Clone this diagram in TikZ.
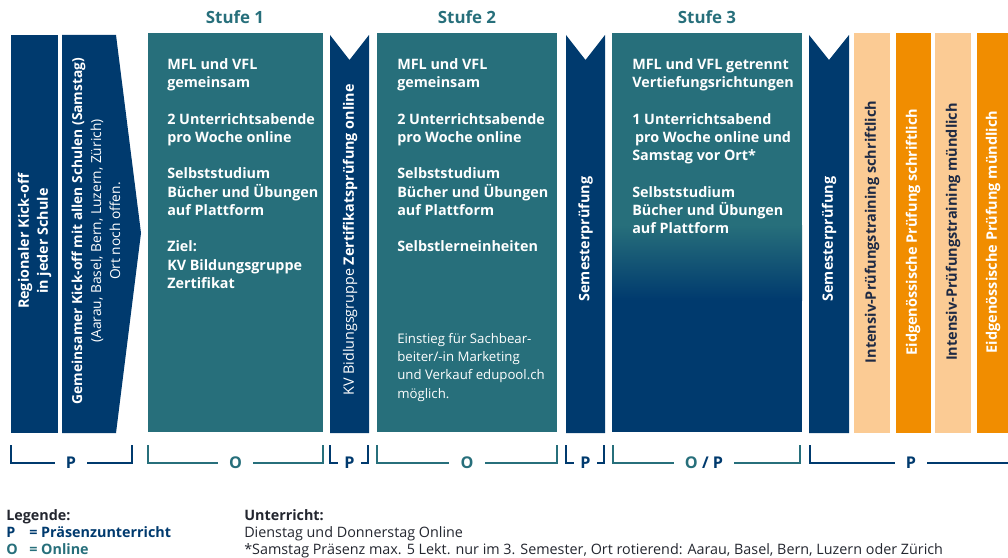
\documentclass[tikz,border=0pt]{standalone}
\usepackage{fontspec}
\setmainfont{Open Sans}
\definecolor{kvblau}{HTML}{003A6E}
\definecolor{kvpetrol}{HTML}{276F7B}
\definecolor{kvhell}{HTML}{FBCB94}
\definecolor{kvorange}{HTML}{F18D00}
\definecolor{kvtext}{HTML}{23262F}
\definecolor{kvnacht}{HTML}{1E2A44}

\begin{document}
\begin{tikzpicture}[x=0.025cm, y=-0.025cm]
        \tikzstyle{every node}=[inner sep=0pt]
        \tikzstyle{spalte}=[text=white, font=\bfseries\fontsize{10.2}{13}\selectfont, align=left, anchor=north west]
        \tikzstyle{hoch}=[rotate=90, align=center, text=white, font=\fontsize{10.2}{13.5}\selectfont]
        \tikzstyle{pruefung}=[hoch, font=\bfseries\fontsize{10.3}{13}\selectfont]
        \tikzstyle{titel}=[text=kvpetrol, font=\bfseries\fontsize{12}{14}\selectfont]
        \tikzstyle{klammer}=[line width=1.5pt, line cap=rect]
        \tikzstyle{kuerzel}=[font=\bfseries\fontsize{11.5}{14}\selectfont, inner xsep=0.3cm]
        \tikzstyle{legende}=[anchor=base west, text=kvtext, font=\fontsize{10.2}{12}\selectfont]
        \useasboundingbox (0,0) rectangle (1008,558);
        % Saeulen
        \fill[kvblau] (11,35) rectangle (58,433);
        \fill[kvblau] (62,35) -- (116,35) -- (141,233) -- (116,433) -- (62,433) -- cycle;
        \fill[kvpetrol] (148,33) rectangle (323,432);
        \fill[kvblau] (330,35) -- (349.5,60) -- (369,35) -- (369,433) -- (330,433) -- cycle;
        \fill[kvpetrol] (377,33) rectangle (557,432);
        \fill[kvblau] (566,35) -- (585.5,60) -- (605,35) -- (605,433) -- (566,433) -- cycle;
        \fill[kvblau] (612,33) rectangle (802,432);
        \fill[kvpetrol] (612,33) rectangle (802,226);
        \shade[top color=kvpetrol, bottom color=kvblau] (612,225) rectangle (802,300);
        \fill[kvblau] (809,35) -- (829,60) -- (849,35) -- (849,433) -- (809,433) -- cycle;
        \fill[kvhell] (854,33) rectangle (890,433);
        \fill[kvorange] (896,33) rectangle (931,433);
        \fill[kvhell] (935,33) rectangle (971,433);
        \fill[kvorange] (977,33) rectangle (1008,433);
        % Titel
        \node[titel] (stufe1) at (235,17) {Stufe 1};
        \node[titel] (stufe2) at (467,17) {Stufe 2};
        \node[titel] (stufe3) at (707,17) {Stufe 3};
        % Inhalte
        \node[spalte] (inhalt1) at (167,58) {MFL und VFL\\gemeinsam\\[13pt]2 Unterrichtsabende\\pro Woche online\\[13pt]Selbststudium\\Bücher und Übungen\\auf Plattform\\[13pt]Ziel:\\KV Bildungsgruppe\\Zertifikat};
        \node[spalte] (inhalt2) at (397,58) {MFL und VFL\\gemeinsam\\[13pt]2 Unterrichtsabende\\pro Woche online\\[13pt]Selbststudium\\Bücher und Übungen\\auf Plattform\\[13pt]Selbstlerneinheiten};
        \node[spalte, font=\fontsize{9.4}{13}\selectfont] (einstieg) at (397,333) {Einstieg für Sachbear-\\beiter/-in Marketing\\und Verkauf edupool.ch\\möglich.};
        \node[spalte] (inhalt3) at (632,58) {MFL und VFL getrennt\\Vertiefungsrichtungen\\[13pt]1 Unterrichtsabend\\\hspace{2pt}pro Woche online und\\Samstag vor Ort*\\[13pt]Selbststudium\\Bücher und Übungen\\auf Plattform};
        % Hochkant
        \node[hoch] (kickoff1) at (34.5,241) {\textbf{Regionaler Kick-off}\\\textbf{in jeder Schule}};
        \node[hoch, font=\fontsize{9.8}{13.5}\selectfont] (kickoff2) at (96,231) {\textbf{Gemeinsamer Kick-off mit allen Schulen (Samstag)}\\(Aarau, Basel, Bern, Luzern, Zürich)\\Ort noch offen.};
        \node[hoch] (zertifikat) at (350,240) {KV Bidlungsgruppe \textbf{Zertifikatsprüfung online}};
        \node[hoch] (semester1) at (585.5,239) {\textbf{Semesterprüfung}};
        \node[hoch] (semester2) at (829,239) {\textbf{Semesterprüfung}};
        \node[pruefung, text=kvnacht] (training1) at (872,232) {Intensiv-Prüfungstraining schriftlich};
        \node[pruefung] (eidg1) at (913,232) {Eidgenössische Prüfung schriftlich};
        \node[pruefung, text=kvnacht] (training2) at (953,232) {Intensiv-Prüfungstraining mündlich};
        \node[pruefung] (eidg2) at (993,232) {Eidgenössische Prüfung mündlich};
        % Klammern
        \node[kuerzel, text=kvblau] (p1) at (71,463) {P};
        \node[kuerzel, text=kvpetrol] (o1) at (235.5,463) {O};
        \node[kuerzel, text=kvblau, inner xsep=0.19cm] (p2) at (349.5,463) {P};
        \node[kuerzel, text=kvpetrol] (o2) at (467,463) {O};
        \node[kuerzel, text=kvblau, inner xsep=0.19cm] (p3) at (585.5,463) {P};
        \node[kuerzel, text=kvblau] (op) at (704,463) {\textcolor{kvpetrol}{O} / P};
        \node[kuerzel, text=kvblau] (p4) at (911,463) {P};
        \draw[klammer, kvblau] (11,446) |- (p1.west);
        \draw[klammer, kvblau] (p1.east) -| (132,446);
        \draw[klammer, kvpetrol] (148,446) |- (o1.west);
        \draw[klammer, kvpetrol] (o1.east) -| (323,446);
        \draw[klammer, kvblau] (330,446) |- (p2.west);
        \draw[klammer, kvblau] (p2.east) -| (368,446);
        \draw[klammer, kvpetrol] (377,446) |- (o2.west);
        \draw[klammer, kvpetrol] (o2.east) -| (557,446);
        \draw[klammer, kvblau] (566,446) |- (p3.west);
        \draw[klammer, kvblau] (p3.east) -| (604,446);
        \draw[klammer, kvpetrol] (613,446) |- (op.west);
        \draw[klammer, kvpetrol] (op.east) -| (800,446);
        \draw[klammer, kvblau] (810,446) |- (p4.west);
        \draw[klammer, kvblau] (p4.east) -- (1008,463);
        % Legende
        \node[legende] (legende) at (6,520) {\textbf{Legende:}};
        \node[legende, text=kvblau] (legp) at (6,537) {\textbf{P}};
        \node[legende, text=kvblau] (legptext) at (29,537) {\textbf{= Präsenzunterricht}};
        \node[legende, text=kvpetrol] (lego) at (6,554) {\textbf{O}};
        \node[legende, text=kvpetrol] (legotext) at (29,554) {\textbf{= Online}};
        \node[legende] (unterricht) at (244,520) {\textbf{Unterricht:}};
        \node[legende] (tage) at (244,537) {Dienstag und Donnerstag Online};
        \node[legende] (samstag) at (244,554) {*Samstag Präsenz max. 5 Lekt. nur im 3. Semester, Ort rotierend: Aarau, Basel, Bern, Luzern oder Zürich};
\end{tikzpicture}
\end{document}
